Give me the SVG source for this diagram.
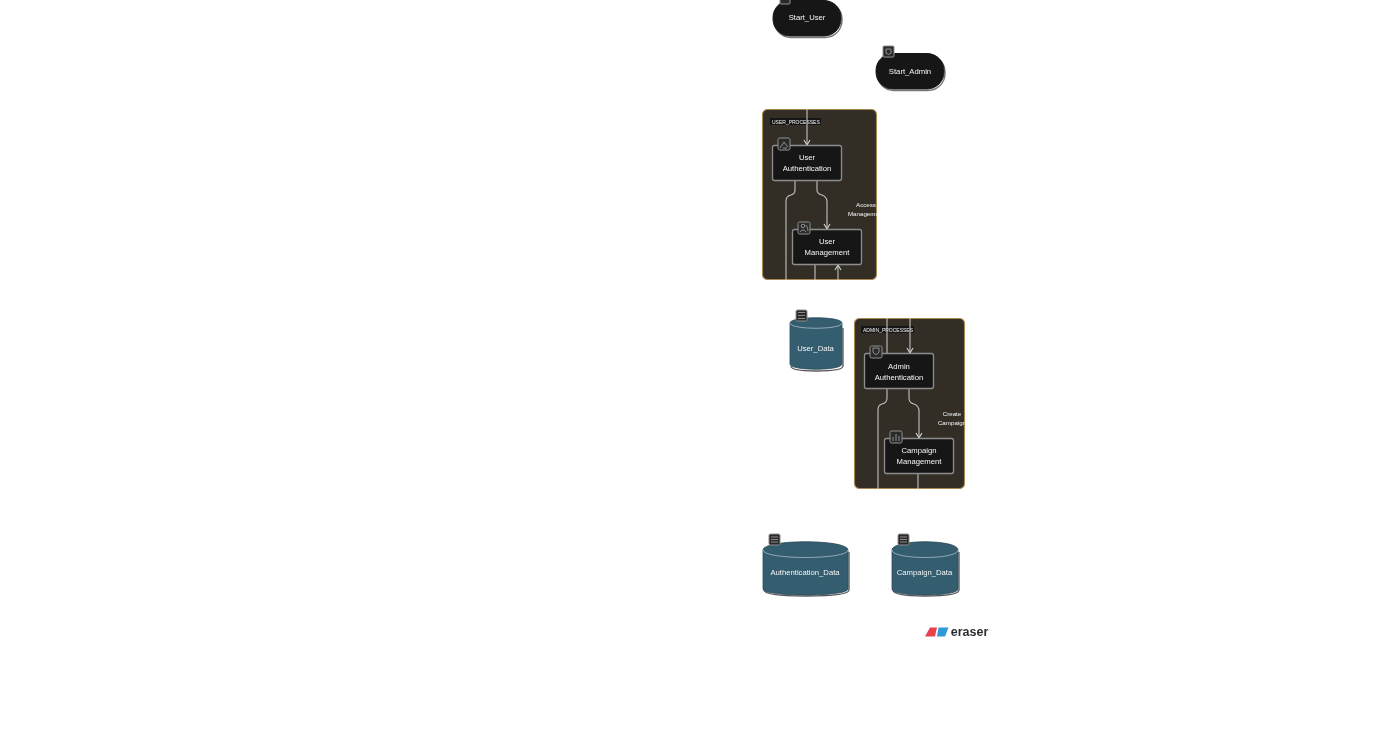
<svg xmlns="http://www.w3.org/2000/svg" width="1381" height="742" viewBox="0 0 1381 742">
<style>
text{font-family:"Liberation Sans",Arial,sans-serif;fill:#f4f4f4;font-size:7.7px;text-anchor:middle}
.small{font-size:6.2px}
.tiny{font-size:5px;text-anchor:start}
.cluster{fill:#322f28;stroke:#a98850;stroke-width:1.1}
.node{fill:#181818;stroke:#8c8c8c;stroke-width:1.3}
.term{fill:#181818;stroke:#181818;stroke-width:1}
.shadow{fill:none;stroke:#777;stroke-width:1.4}
.cyl{fill:#355d70;stroke:#2b4b5a;stroke-width:.8}
.cyltop{fill:none;stroke:#b9c7cd;stroke-width:.7}
.cylshadow{fill:none;stroke:#555;stroke-width:1.3}
.edge{fill:none;stroke:#c2c2c2;stroke-width:1.1}
.icon{fill:#2b2b2b;stroke:#8f8f8f;stroke-width:1}
.glyph{fill:none;stroke:#cfcfcf;stroke-width:.6}
.tag{fill:#171717}
</style>
<defs>
<filter id="soft" filterUnits="userSpaceOnUse" x="0" y="0" width="1381" height="742"><feGaussianBlur stdDeviation="0.45"/></filter>
<marker id="arrow" markerWidth="8" markerHeight="8" refX="6" refY="4" orient="auto" markerUnits="userSpaceOnUse"><path d="M1 1 L6 4 L1 7" fill="none" stroke="#d5d5d5" stroke-width="1.1"/></marker>
<clipPath id="clipUser"><rect x="762" y="109" width="115" height="171" rx="5"/></clipPath>
<clipPath id="clipAdmin"><rect x="854" y="318" width="111" height="171" rx="5"/></clipPath>
</defs>
<g id="diagram" filter="url(#soft)">
<g id="cluster-user-processes">
<rect class="cluster" x="762.500" y="109.500" width="114" height="170" rx="5"/>
<rect class="tag" x="770" y="118" width="51" height="7"/>
<text class="small tiny" x="772" y="123.500">USER_PROCESSES</text>
</g>
<g id="cluster-admin-processes">
<rect class="cluster" x="854.500" y="318.500" width="110" height="170" rx="5"/>
<rect class="tag" x="861" y="326" width="53" height="7"/>
<text class="small tiny" x="863" y="332">ADMIN_PROCESSES</text>
</g>

<g id="connectors">
<path class="edge" d="M807 109V145" marker-end="url(#arrow)"/>
<path class="edge" d="M795 181V190Q795 194 791 195Q786 196 786 201V280"/>
<path class="edge" d="M817 181V190Q817 194 822 195Q827 197 827 202V229" marker-end="url(#arrow)"/>
<path class="edge" d="M815 265V280"/>
<path class="edge" d="M838 280V265" marker-end="url(#arrow)"/>
<path class="edge" d="M887 318V353"/>
<path class="edge" d="M910 318V353" marker-end="url(#arrow)"/>
<path class="edge" d="M887 389V398Q887 403 882 404Q878 405 878 410V489"/>
<path class="edge" d="M909 389V398Q909 403 914 404Q919 406 919 411V438" marker-end="url(#arrow)"/>
<path class="edge" d="M918 474V489"/>
</g>

<g id="edge-labels">
<g clip-path="url(#clipUser)"><text class="small" x="866" y="207">Access</text><text class="small" x="866" y="216">Management</text></g>
<g clip-path="url(#clipAdmin)"><text class="small" x="952" y="416">Create</text><text class="small" x="952" y="425">Campaign</text></g>
</g>

<g id="Start_User">
<rect class="shadow" x="774" y="2" width="68" height="35.500" rx="17"/>
<rect class="term" x="773" y="0.500" width="68" height="35.500" rx="17"/>
<rect class="icon" x="780" y="-5" width="10" height="9" rx="1"/>
<text x="807" y="20">Start_User</text>
</g>
<g id="Start_Admin">
<rect class="shadow" x="877" y="55" width="68" height="35.500" rx="17"/>
<rect class="term" x="876" y="53.500" width="68" height="35.500" rx="17"/>
<rect class="icon" x="883" y="46" width="11" height="11" rx="1"/>
<path class="glyph" d="M886 49H891V53Q888.500 56 886 53Z"/>
<text x="910" y="73.500">Start_Admin</text>
</g>
<g id="User_Authentication">
<rect class="node" x="772.500" y="145.500" width="69" height="35" rx="2"/>
<rect class="icon" x="778" y="138" width="12" height="12" rx="1.500"/>
<path class="glyph" d="M780 148L784 142L788 147M783 148H787"/>
<text x="807" y="160">User</text><text x="807" y="171">Authentication</text>
</g>
<g id="User_Management">
<rect class="node" x="792.500" y="229.500" width="69" height="35" rx="2"/>
<rect class="icon" x="798" y="222" width="12" height="12" rx="1.500"/>
<circle class="glyph" cx="803" cy="226" r="1.800"/><path class="glyph" d="M800 232Q803 228 806 232M806 225Q808 227 808 231"/>
<text x="827" y="244">User</text><text x="827" y="255">Management</text>
</g>
<g id="User_Data">
<path class="cylshadow" d="M791 366Q791 371 816 371Q843 371 843 366V328"/>
<path class="cyl" d="M790 323C790 316 842 316 842 323V364C842 371 790 371 790 364Z"/>
<path class="cyltop" d="M790 323C790 330 842 330 842 323"/>
<rect class="icon" x="796" y="310" width="11" height="11" rx="1.500"/>
<path class="glyph" d="M798 312.500H805M798 315.500H805M798 318.500H805"/>
<text x="815.500" y="350.500">User_Data</text>
</g>
<g id="Admin_Authentication">
<rect class="node" x="864.500" y="353.500" width="69" height="35" rx="2"/>
<rect class="icon" x="870" y="346" width="12" height="12" rx="1.500"/>
<path class="glyph" d="M873 348H879V352Q876 357 873 352Z"/>
<text x="899" y="369">Admin</text><text x="899" y="380">Authentication</text>
</g>
<g id="Campaign_Management">
<rect class="node" x="884.500" y="438.500" width="69" height="35" rx="2"/>
<rect class="icon" x="890" y="431" width="12" height="12" rx="1.500"/>
<path class="glyph" d="M893 441V437M896 441V434M899 441V436"/>
<text x="919" y="453">Campaign</text><text x="919" y="464">Management</text>
</g>
<g id="Authentication_Data">
<path class="cylshadow" d="M764 590Q764 596 806 596Q849 596 849 590V552"/>
<path class="cyl" d="M763 550C763 539 848 539 848 550V589C848 597 763 597 763 589Z"/>
<path class="cyltop" d="M763 550C763 560 848 560 848 550"/>
<rect class="icon" x="769" y="534" width="11" height="11" rx="1.500"/>
<path class="glyph" d="M771 537H778M771 539.500H778M771 542H778"/>
<text x="805" y="575">Authentication_Data</text>
</g>
<g id="Campaign_Data">
<path class="cylshadow" d="M893 590Q893 596 925 596Q959 596 959 590V552"/>
<path class="cyl" d="M892 550C892 539 958 539 958 550V589C958 597 892 597 892 589Z"/>
<path class="cyltop" d="M892 550C892 560 958 560 958 550"/>
<rect class="icon" x="898" y="534" width="11" height="11" rx="1.500"/>
<path class="glyph" d="M900 537H907M900 539.500H907M900 542H907"/>
<text x="924.500" y="575">Campaign_Data</text>
</g>
<g id="eraser-logo">
<path d="M925 636.500L930 627.500H937L935 636.500Z" fill="#e8414e"/>
<path d="M937 636.500L938.500 627.500H948.500L945 636.500Z" fill="#2d9bd8"/>
<text x="969.500" y="635.500" style="font-size:12.500px;font-weight:700;fill:#2c2f33">eraser</text>
</g>
</g>
</svg>
